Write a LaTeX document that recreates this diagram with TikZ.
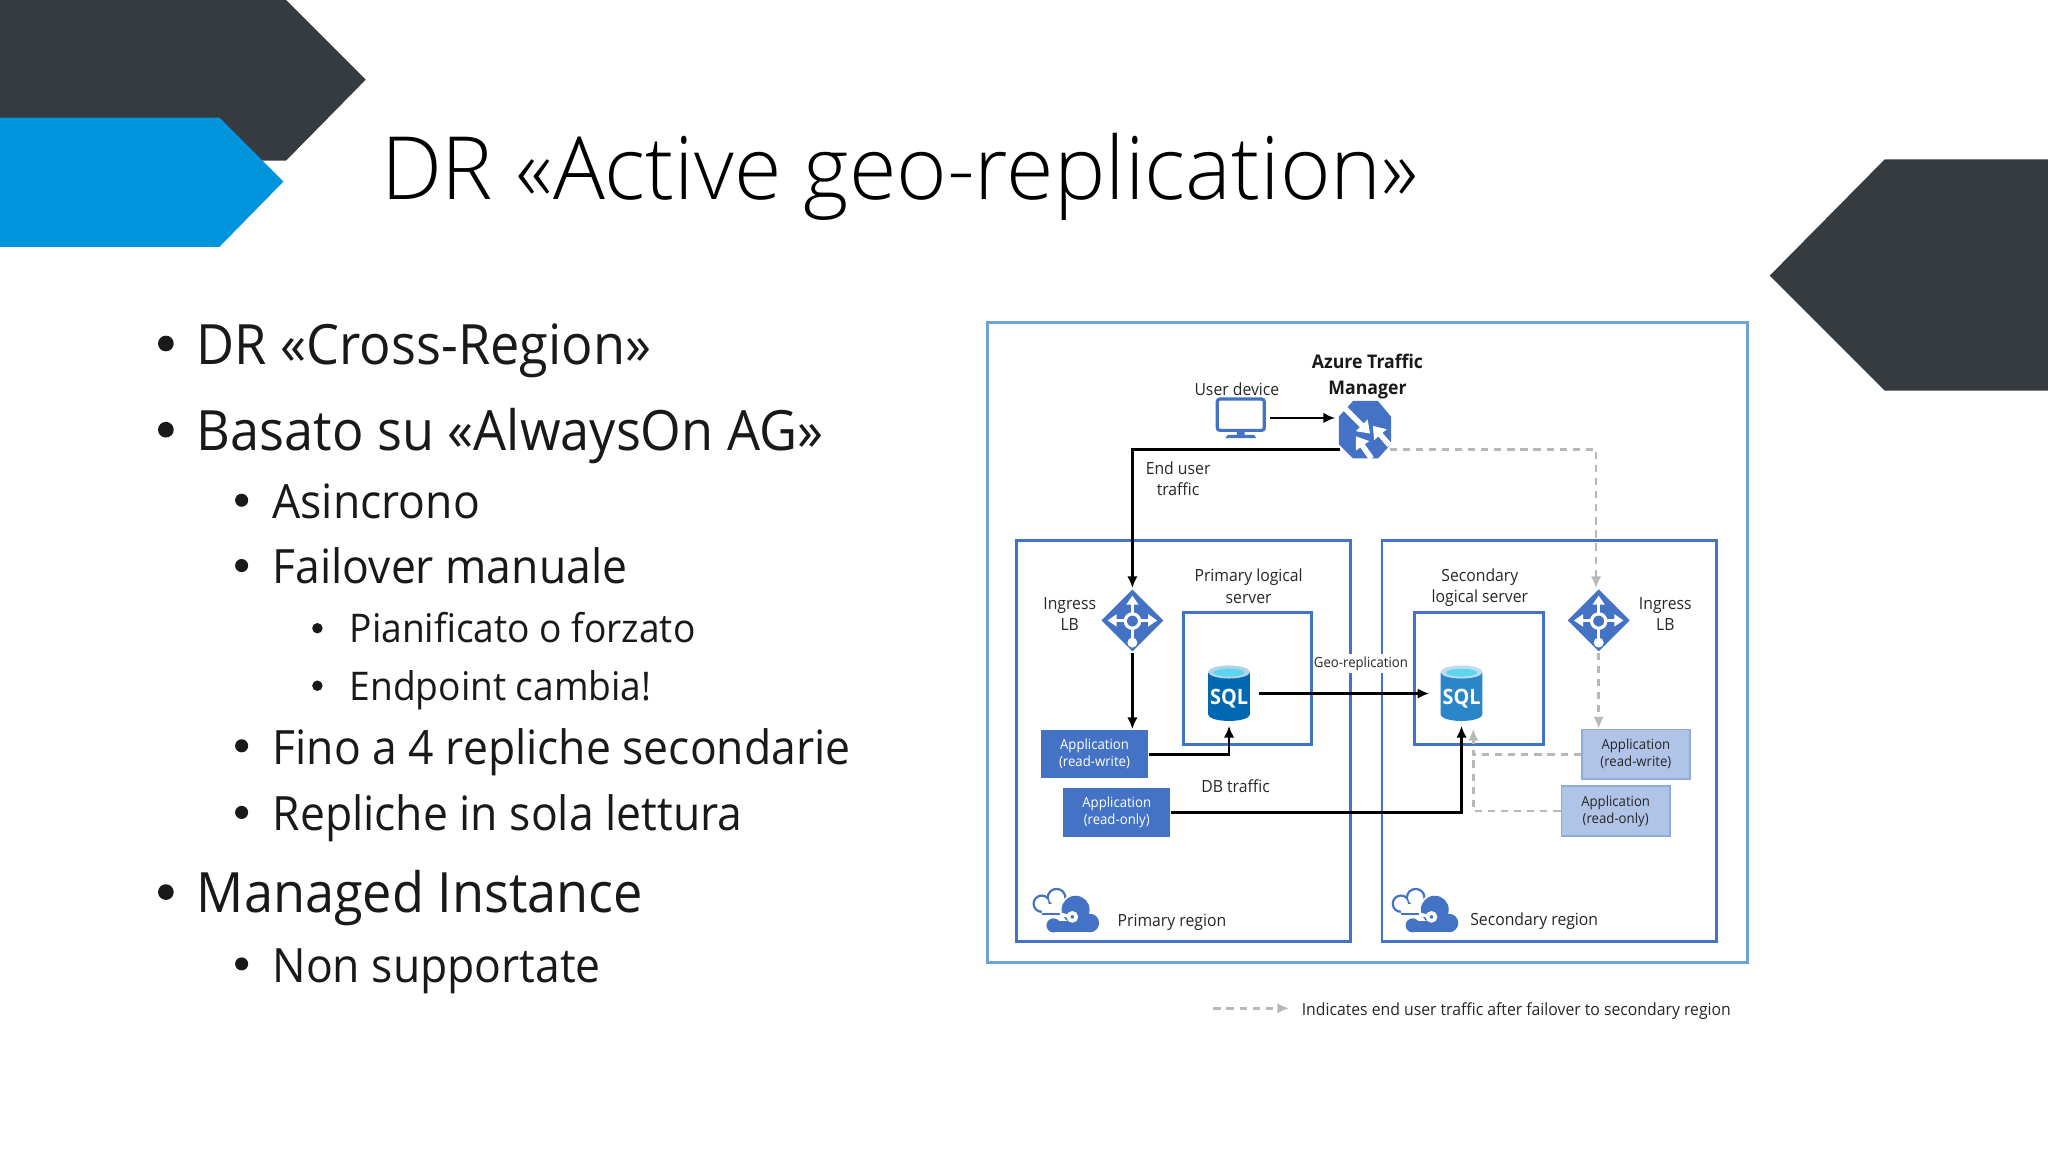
\documentclass[tikz,border=0pt]{standalone}
\usepackage{fontspec}
\setmainfont{Open Sans}[FakeStretch=.94]
\newfontfamily\thinfont{Open Sans Light}[FakeStretch=.99]
\usetikzlibrary{shapes.geometric, arrows.meta}
\definecolor{slate}{HTML}{363B40}
\definecolor{slideblue}{HTML}{0094DC}
\definecolor{azure}{HTML}{4472C4}
\definecolor{paleazure}{HTML}{B0C4E8}
\definecolor{paleedge}{HTML}{8FAADC}
\definecolor{frameblue}{HTML}{6FA0D8}
\definecolor{failgray}{HTML}{B8B8B8}
\definecolor{sqldeep}{HTML}{0068B0}
\definecolor{sqlmid}{HTML}{2A86C8}
\definecolor{sqlcyan}{HTML}{5CD6EE}
\tikzset{
  pics/sqlicon/.style={code={
    \fill[#1] (-16,-16) -- (-16,16) arc[x radius=16,y radius=5,start angle=180,end angle=0] -- (16,-16) -- cycle;
    \fill[#1!30!white] (0,-16.5) ellipse[x radius=16,y radius=5];
    \fill[sqlcyan] (0,-16) ellipse[x radius=12,y radius=3];
  }},
  pics/monitor/.style={code={
    \draw[azure,line width=.7pt,rounded corners=.02cm,fill=white] (-18,-14.5) rectangle (18,9.5);
    \fill[azure] (-3,9.5) rectangle (3,13) (-10,13) -- (10,13) -- (12,15.5) -- (-12,15.5) -- cycle;
  }},
  pics/trafficicon/.style={code={
    \fill[azure] (-9,-22) -- (10,-22) -- (20,-10) -- (20,11) -- (10,22) -- (-9,22) -- (-20,11) -- (-20,-10) -- cycle;
    \draw[white,line width=1.2pt,-{Triangle[length=.09cm,width=.12cm]}] (-15,-16) -- (4,3);
    \draw[white,line width=1.2pt,-{Triangle[length=.09cm,width=.12cm]}] (19,12) -- (6,-3);
    \draw[white,line width=1.2pt,-{Triangle[length=.09cm,width=.12cm]}] (5,22) -- (-7,5);
  }},
  pics/lbicon/.style={code={
    \draw[white,line width=.55pt] (0,0) -- (0,17);
    \foreach \ang in {0,90,180}
      \draw[white,line width=.55pt,-{Triangle[length=.07cm,width=.09cm]}] (0,0) -- (\ang:-19);
    \draw[white,line width=.7pt,fill=azure] (0,.5) circle (5.5);
    \fill[white] (0,17) circle (3.8);
  }},
  pics/cloudicon/.style={code={
    \fill[azure] (-18.4,-5.1) circle (7.1);
    \fill[azure] (-7.1,-9.7) circle (7.6);
    \fill[azure] (-18.4,-5) rectangle (2,3.6);
    \fill[white] (-18.4,-5.1) circle (5.3);
    \fill[white] (-7.1,-9.7) circle (5.8);
    \fill[white] (-18.4,-5) rectangle (2,1.8);
    \fill[white] (7.5,-.5) circle (12);
    \fill[azure] (7.5,-.5) circle (10.7);
    \fill[azure] (18.4,9.7) circle (7.1);
    \fill[azure] (-9.4,11.5) circle (5.4);
    \fill[azure] (-9.4,8) rectangle (18.4,16.9);
    \draw[white,line width=.7pt] (-4.5,2.7) -- (2,4.5);
    \draw[white,line width=.8pt,fill=azure] (5,5) circle (3);
  }}
}
\begin{document}
\begin{tikzpicture}[x=.01cm,y=-.01cm,every node/.style={inner sep=0pt},
  headline/.style={anchor=base west,font=\thinfont\fontsize{19}{23}\selectfont,text=black},
  lineone/.style={anchor=base west,font=\fontsize{12.1}{14}\selectfont,text=black!90},
  linetwo/.style={anchor=base west,font=\fontsize{10.3}{12}\selectfont,text=black!90},
  linethree/.style={anchor=base west,font=\fontsize{8.6}{10}\selectfont,text=black!90},
  dot/.style={shape=circle,fill=black!90,minimum size=#1},
  tag/.style={align=center,font=\fontsize{3.65}{4.7}\selectfont,text=black!85},
  boldtag/.style={align=center,font=\bfseries\fontsize{4.1}{5.6}\selectfont,text=black!90},
  appsolid/.style={fill=azure,text=white,align=center,minimum width=.82cm,minimum height=.37cm,font=\fontsize{3.05}{3.7}\selectfont},
  apppale/.style={fill=paleazure,draw=paleedge,line width=.4pt,text=black!85,align=center,minimum width=.83cm,minimum height=.38cm,font=\fontsize{3.05}{3.7}\selectfont},
  region/.style={draw=azure,line width=.6pt},
  flow/.style={line width=.55pt,-{Latex[length=.09cm,width=.08cm]}},
  failflow/.style={failgray,line width=.55pt,dash pattern=on .055cm off .045cm,-{Latex[length=.09cm,width=.08cm]}},
  failline/.style={failgray,line width=.55pt,dash pattern=on .055cm off .045cm},
  sqltext/.style={text=white,font=\bfseries\fontsize{4.6}{5}\selectfont,minimum width=.32cm,minimum height=.44cm}]
  \useasboundingbox (0,0) rectangle (1568,882);
  % slide shapes
  \fill[slate] (0,0) -- (219,0) -- (280,61) -- (219,123) -- (0,123) -- cycle;
  \fill[slideblue] (0,90) -- (168,90) -- (217,139) -- (168,189) -- (0,189) -- cycle;
  \fill[slate] (1568,122) -- (1443,122) -- (1355,211) -- (1443,299) -- (1568,299) -- cycle;
  \path (291,153) node[headline] (title) {DR «Active geo-replication»};
  % bullets
  \path (150,279) node[lineone] (crossregion) {DR «Cross-Region»}
  (150,345) node[lineone] (alwayson) {Basato su «AlwaysOn AG»}
  (208,397) node[linetwo] (async) {Asincrono}
  (208,447) node[linetwo] (failover) {Failover manuale}
  (267,492) node[linethree] (planned) {Pianificato o forzato}
  (267,536) node[linethree] (endpoint) {Endpoint cambia!}
  (208,585) node[linetwo] (replicas) {Fino a 4 repliche secondarie}
  (208,636) node[linetwo] (readonly) {Repliche in sola lettura}
  (150,699) node[lineone] (managed) {Managed Instance}
  (208,752) node[linetwo] (unsupported) {Non supportate};
  \foreach \n/\y in {a/263,b/329,c/683}
    \path (127,\y) node[dot=.12cm] (dotone\n) {};
  \foreach \n/\y in {a/383,b/433,c/571,d/622,e/738}
    \path (185,\y) node[dot=.1cm] (dottwo\n) {};
  \foreach \n/\y in {a/481,b/525}
    \path (243,\y) node[dot=.08cm] (dotthree\n) {};
  % frames
  \draw[frameblue,line width=.6pt] (756,247) rectangle (1338,737);
  \draw[region] (778,414) rectangle (1034,721);
  \draw[region] (1058,414) rectangle (1314,721);
  \draw[region] (906,469) rectangle (1004,570);
  \draw[region] (1083,469) rectangle (1182,570);
  % icons
  \pic at (950,320) {monitor};
  \pic at (1045,329) {trafficicon};
  \pic at (941,531) {sqlicon=sqldeep};
  \pic at (1119,531) {sqlicon=sqlmid};
  \pic at (816,697) {cloudicon};
  \pic at (1091,697) {cloudicon};
  \path (950,320) node[minimum width=.37cm,minimum height=.3cm] (userdev) {}
  (1045,329) node[minimum width=.4cm,minimum height=.44cm] (tm) {}
  (867,475) node[diamond,aspect=1,fill=azure,minimum width=.48cm,minimum height=.48cm] (lbA) {}
  (1224,475) node[diamond,aspect=1,fill=azure,minimum width=.48cm,minimum height=.48cm] (lbB) {}
  (941,531) node[sqltext] (sqlA) {\raisebox{-.08cm}[0pt][0pt]{SQL}}
  (1119,531) node[sqltext] (sqlB) {\raisebox{-.08cm}[0pt][0pt]{SQL}};
  \pic at (lbA) {lbicon};
  \pic at (lbB) {lbicon};
  \path (838,577.5) node[appsolid] (appA) {Application\\(read-write)}
  (855,622) node[appsolid] (appB) {Application\\(read-only)}
  (1252.5,577.5) node[apppale] (appC) {Application\\(read-write)}
  (1237,621) node[apppale] (appD) {Application\\(read-only)};
  % labels
  \path (1047,288.5) node[boldtag] (tmlabel) {Azure Traffic\\Manager}
  (947,298) node[tag] (userlabel) {User device}
  (902,366.5) node[tag] (endlabel) {End user\\traffic}
  (819,470) node[tag] (ingressA) {Ingress\\LB}
  (1275,470) node[tag] (ingressB) {Ingress\\LB}
  (956,449) node[tag] (primlabel) {Primary logical\\server}
  (1133,450) node[tag] (seclabel) {Secondary\\logical server}
  (946,602) node[tag] (dblabel) {DB traffic}
  (855,706.5) node[tag,anchor=west] (primregion) {Primary region}
  (1125,705) node[tag,anchor=west] (secregion) {Secondary region}
  (1042,508) node[tag,fill=white,inner xsep=.01cm,inner ysep=.02cm,font=\fontsize{3.05}{3.7}\selectfont] (geolabel) {Geo-replication}
  (996,774) node[tag,anchor=west] (legendnote) {Indicates end user traffic after failover to secondary region};
  % connectors
  \coordinate (tmleft) at (1026,344);
  \coordinate (tmright) at (1064,344);
  \coordinate (failtip) at (1128,558);
  \coordinate (failjoin) at (1128,577.5);
  \coordinate (legendtail) at (929,772);
  \draw[flow,shorten <=.03cm,shorten >=.02cm] (userdev) -- (userdev -| tm.west);
  \draw[flow] (tmleft) -| (lbA.north);
  \draw[flow] (lbA.south) -- (lbA |- appA.north);
  \draw[flow,shorten >=.02cm] (appA.east) -| (sqlA.south);
  \draw[flow,shorten >=.02cm] (appB.east) -| (sqlB.south);
  \draw[flow,shorten <=.06cm,shorten >=.08cm] (sqlA) -- (sqlB);
  \draw[failflow] (tmright) -| ([xshift=-.02cm]lbB.north);
  \draw[failflow] (lbB.south) -- (lbB |- appC.north);
  \draw[failflow] (appC.west) -| (failtip);
  \draw[failline] (appD.west) -| (failjoin);
  \draw[failflow,shorten >=.09cm] (legendtail) -- (legendtail -| legendnote.west);
\end{tikzpicture}
\end{document}
